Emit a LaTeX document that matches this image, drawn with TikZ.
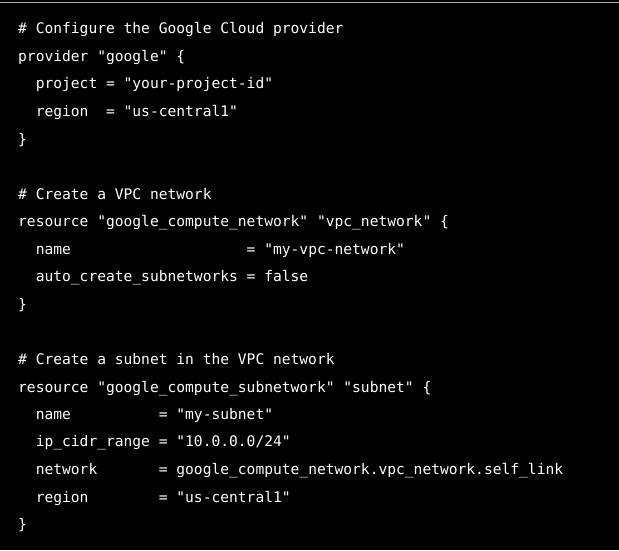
\documentclass[tikz,border=0pt]{standalone}
\usepackage{fontspec}
\setmonofont{DejaVu Sans Mono}
\begin{document}
\begin{tikzpicture}[x=1pt,y=-1pt,
  codeline/.style={anchor=base west,inner sep=0pt,text=white,font=\ttfamily\fontsize{14.6}{16}\selectfont}]
\fill[black] (0,0) rectangle (619,550);
\useasboundingbox (0,0) rectangle (619,550);
\draw[gray!60,line width=0.8pt] (0,2.5) -- (619,2.5);
\node[codeline] (l1) at (18,33) {\#~Configure~the~Google~Cloud~provider};
\node[codeline] (l2) at (18,61) {provider~"google"~\{};
\node[codeline] (l3) at (18,88) {~~project~=~"your-project-id"};
\node[codeline] (l4) at (18,116) {~~region~~=~"us-central1"};
\node[codeline] (l5) at (18,144) {\}};
\node[codeline] (l7) at (18,199) {\#~Create~a~VPC~network};
\node[codeline] (l8) at (18,226) {resource~"google\_compute\_network"~"vpc\_network"~\{};
\node[codeline] (l9) at (18,254) {~~name~~~~~~~~~~~~~~~~~~~~=~"my-vpc-network"};
\node[codeline] (l10) at (18,281) {~~auto\_create\_subnetworks~=~false};
\node[codeline] (l11) at (18,309) {\}};
\node[codeline] (l13) at (18,364) {\#~Create~a~subnet~in~the~VPC~network};
\node[codeline] (l14) at (18,392) {resource~"google\_compute\_subnetwork"~"subnet"~\{};
\node[codeline] (l15) at (18,419) {~~name~~~~~~~~~~=~"my-subnet"};
\node[codeline] (l16) at (18,446) {~~ip\_cidr\_range~=~"10.0.0.0/24"};
\node[codeline] (l17) at (18,474) {~~network~~~~~~~=~google\_compute\_network.vpc\_network.self\_link};
\node[codeline] (l18) at (18,502) {~~region~~~~~~~~=~"us-central1"};
\node[codeline] (l19) at (18,529) {\}};
\end{tikzpicture}
\end{document}
